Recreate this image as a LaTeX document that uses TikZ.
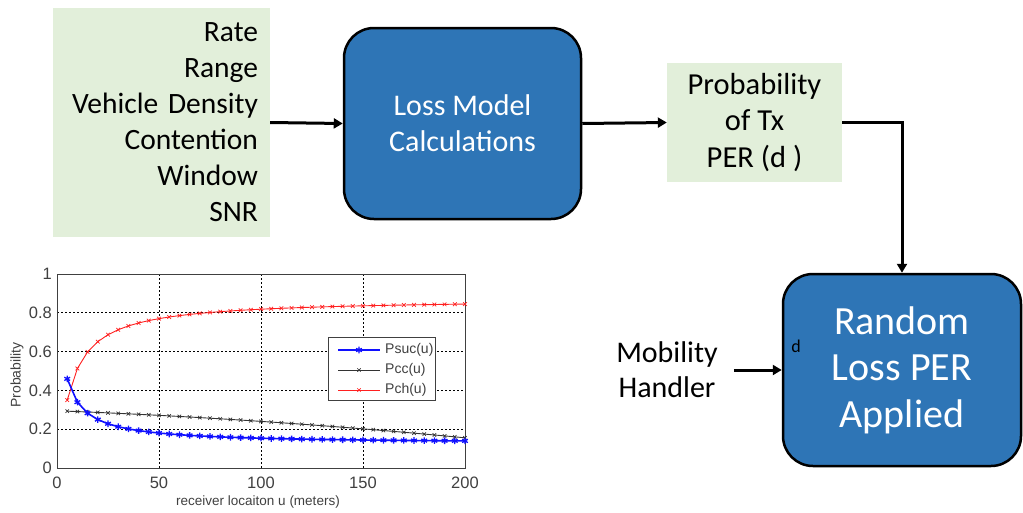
\documentclass[tikz,border=0pt]{standalone}
\usepackage{fontspec}
\setmainfont{Carlito}
\newfontfamily\plotfont{Liberation Sans}
\usetikzlibrary{arrows.meta,plotmarks}
\definecolor{lgreen}{HTML}{E2EFDA}
\definecolor{oblue}{HTML}{2E75B6}
\definecolor{axgray}{HTML}{404040}
\definecolor{pblue}{HTML}{1010FF}
\definecolor{pred}{HTML}{FF2020}
\begin{document}
\begin{tikzpicture}[x=1pt,y=-1pt,
  inbox/.style={fill=lgreen, draw=none, inner xsep=12pt, inner ysep=0pt},
  bluebox/.style={fill=oblue, draw=black, line width=2.5pt, rounded corners=30pt, text=white, align=center},
  arr/.style={line width=3pt, -{Triangle[length=9pt,width=10pt]}},
  ticklab/.style={text=axgray, font=\plotfont\fontsize{16.5}{16.5}\selectfont, inner sep=1pt},
  leglab/.style={text=axgray, font=\plotfont\fontsize{14}{14}\selectfont, inner sep=1pt},
  gridline/.style={black, line width=0.7pt, dash pattern=on 2pt off 2pt},
  curve/.style={line width=0.9pt}
]
\useasboundingbox (0,0) rectangle (1023,512);

% ---- diagram nodes ----
\node[inbox, minimum width=217pt, minimum height=229pt, text width=193pt, align=right,
      font=\fontsize{29.5}{36}\selectfont] (inp) at (161.5,122.5)
  {Rate\\Range\\Vehicle Density\\Contention\\Window\\SNR};
\node[bluebox, minimum width=237pt, minimum height=191pt, font=\fontsize{30}{36}\selectfont] (loss) at (462.5,123.5)
  {Loss Model\\Calculations};
\node[inbox, minimum width=175pt, minimum height=119pt, align=center, font=\fontsize{30.5}{36.5}\selectfont] (prob) at (754.5,122.5)
  {Probability\\of Tx\\PER (d )};
\node[bluebox, minimum width=238pt, minimum height=192pt, font=\fontsize{40}{46.5}\selectfont] (rand) at (902,370)
  {Random\\Loss PER\\Applied};
\node[align=center, font=\fontsize{30}{35}\selectfont, inner sep=0pt] (mob) at (667,370) {Mobility\\Handler};
\node[font=\fontsize{18}{18}\selectfont, inner sep=0pt] (dlab) at (796,346) {d};

\draw[arr] (inp.east) -- (loss.west);
\draw[arr] (loss.east) -- (prob.west);
\draw[arr] (prob.east) -| (rand.north);
\draw[arr] ([xshift=16pt]mob.east) -- (rand.west);

% ---- plot ----
\foreach \u in {50,100,150} \draw[gridline] ({57+2.04*\u},274) -- ({57+2.04*\u},468);
\foreach \p in {0.2,0.4,0.6,0.8} \draw[gridline] (57,{468-194*\p}) -- (465,{468-194*\p});
\draw[axgray, line width=1pt] (57,274) rectangle (465,468);

\foreach \p/\t in {0/0,0.2/0.2,0.4/0.4,0.6/0.6,0.8/0.8,1/1}
  \node[ticklab, anchor=east] (yt\t) at (53,{468-194*\p}) {\t};
\foreach \u in {0,50,100,150,200}
  \node[ticklab] (xt\u) at ({57+2.04*\u},483) {\u};
\node[text=axgray, font=\plotfont\fontsize{14}{14}\selectfont, rotate=90] (ylab) at (17,375) {Probability};
\node[text=axgray, font=\plotfont\fontsize{13.5}{13.5}\selectfont] (xlab) at (258,502) {receiver locaiton u (meters)};

% curves
\draw[pred, curve] plot[domain=5:200, samples=40, mark=x, mark size=2.6pt, mark options={line width=0.7pt}]
  ({57+2.04*\x},{468-194*(0.873-5.774/(\x+6.04))});
\draw[black!80, curve] plot[domain=5:200, samples=40, mark=x, mark size=2.4pt, mark options={line width=0.7pt}]
  ({57+2.04*\x},{468-194*(0.295-0.0004*\x-0.015*(\x/100)*(\x/100))});
\draw[pblue, line width=1.6pt] plot[domain=5:200, samples=40, mark=asterisk, mark size=3.3pt, mark options={line width=1.3pt}]
  ({57+2.04*\x},{468-194*(0.125+2.978/(\x+3.9))});

% legend
\draw[axgray, fill=white, line width=0.8pt] (328,337) rectangle (435,400);
\draw[pblue, line width=1.6pt] (338,350) -- (380,350);
\draw[pblue, line width=1.3pt] plot[mark=asterisk, mark size=3.3pt] coordinates {(359,350)};
\draw[black!80, curve] (338,370) -- (380,370);
\draw[black!80, line width=0.7pt] plot[mark=x, mark size=2.4pt] coordinates {(359,370)};
\draw[pred, curve] (338,390) -- (380,390);
\draw[pred, line width=0.7pt] plot[mark=x, mark size=2.4pt] coordinates {(359,390)};
\node[leglab, anchor=west] (l1) at (384,350) {Psuc(u)};
\node[leglab, anchor=west] (l2) at (384,370) {Pcc(u)};
\node[leglab, anchor=west] (l3) at (384,390) {Pch(u)};
\end{tikzpicture}
\end{document}
